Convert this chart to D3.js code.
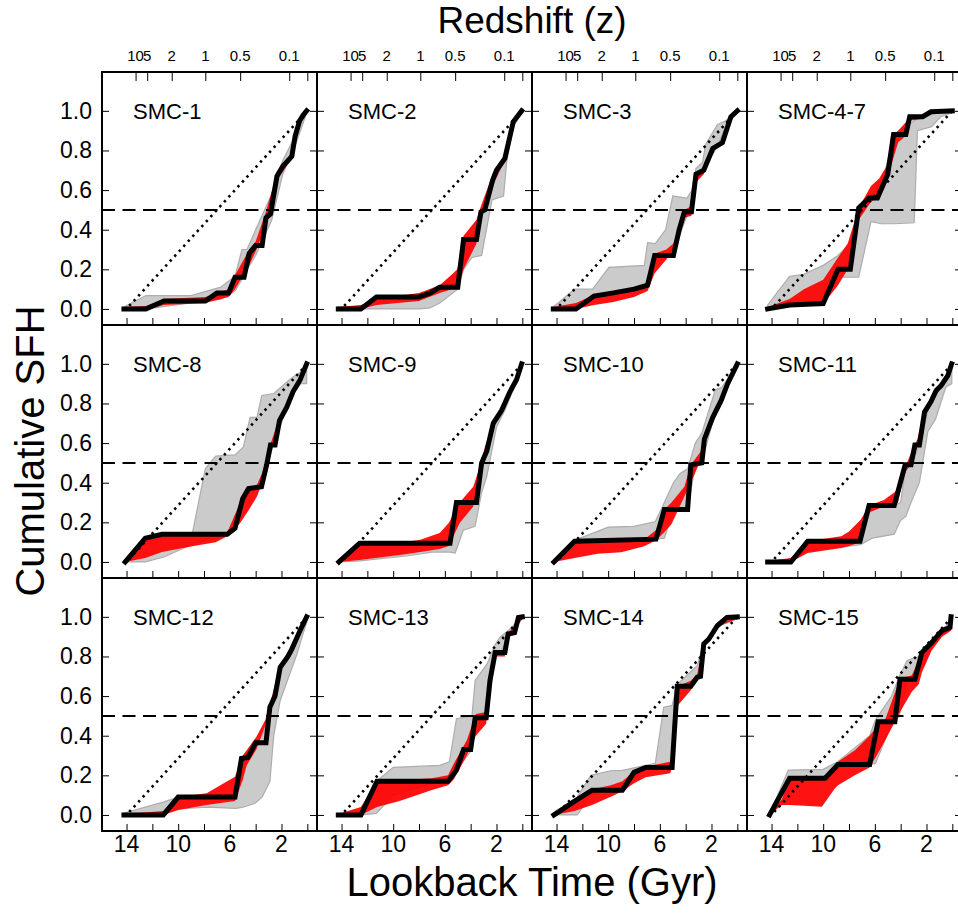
<!DOCTYPE html>
<html>
<head>
<meta charset="utf-8">
<script src="https://cdn.jsdelivr.net/npm/d3@7"></script>
<style>
  body { margin: 0; background: #fff; }
  svg { display: block; font-family: "Liberation Sans", Arial, Helvetica, sans-serif; }
</style>
</head>
<body>
<div id="chart"></div>
<script>
const names = ["SMC-1", "SMC-2", "SMC-3", "SMC-4-7", "SMC-8", "SMC-9", "SMC-10", "SMC-11", "SMC-12", "SMC-13", "SMC-14", "SMC-15"]

const yTicks = [0, 0.2, 0.4, 0.6, 0.8, 1.0]
const timeTicks = [14, 12, 10, 8, 6, 4, 2, 0]
const timeLabels = [14, 10, 6, 2]
const zTimes = [13.3, 12.4, 10.5, 7.9, 5.2, 1.4, 0]
const zLabels = ["10", "5", "2", "1", "0.5", "0.1", ""]

// best fit cumulative SFH: [lookback Gyr, fraction]
const bestFit = [
  [[14.2,0],[12.5,0],[11.1,0.04],[7.9,0.04],[7.0,0.08],[6.1,0.08],[5.6,0.16],[4.9,0.16],[4.5,0.28],[4.0,0.32],[3.5,0.32],[3.2,0.46],[2.85,0.48],[2.35,0.67],[1.9,0.72],[1.2,0.77],[0.95,0.87],[0.6,0.95],[0.3,0.98],[0.05,1.0]],
  [[14.25,0],[12.5,0],[11.3,0.06],[8.05,0.06],[7.15,0.08],[6.4,0.11],[5.0,0.11],[4.55,0.35],[3.55,0.35],[3.2,0.49],[2.9,0.5],[2.3,0.65],[2.0,0.7],[1.35,0.76],[0.7,0.945],[0.05,1.0]],
  [[14.25,0],[12.5,0],[11.1,0.065],[9.7,0.08],[8.0,0.1],[6.95,0.12],[6.4,0.27],[4.95,0.27],[4.5,0.4],[4.1,0.49],[3.55,0.49],[3.2,0.68],[2.6,0.7],[1.9,0.81],[1.15,0.84],[0.5,0.97],[0.0,1.0]],
  [[14.3,0],[12.6,0.02],[10.0,0.027],[8.85,0.2],[7.9,0.2],[7.25,0.51],[6.45,0.56],[5.8,0.56],[5.0,0.68],[4.55,0.88],[3.6,0.88],[3.3,0.97],[2.3,0.97],[1.65,0.995],[0.0,1.0]],
  [[14.1,0],[12.55,0.12],[11.25,0.14],[6.2,0.14],[5.6,0.17],[5.0,0.32],[4.55,0.37],[3.55,0.38],[3.15,0.49],[2.85,0.59],[2.5,0.59],[2.15,0.715],[1.6,0.78],[1.1,0.86],[0.55,0.92],[0.05,1.0]],
  [[14.2,0],[12.6,0.095],[5.6,0.095],[5.1,0.3],[3.55,0.3],[3.15,0.5],[2.75,0.56],[2.25,0.7],[1.6,0.765],[0.95,0.86],[0.45,0.92],[0.05,1.0]],
  [[14.2,0],[12.6,0.105],[6.3,0.115],[5.65,0.265],[3.85,0.265],[3.6,0.49],[2.75,0.5],[2.55,0.62],[1.9,0.73],[1.25,0.815],[0.75,0.9],[0.0,1.0]],
  [[14.3,0],[12.5,0],[11.2,0.105],[7.15,0.105],[6.45,0.285],[4.5,0.285],[3.65,0.49],[3.2,0.49],[2.9,0.59],[2.55,0.59],[2.15,0.757],[1.65,0.81],[1.25,0.866],[0.87,0.89],[0.35,0.94],[0.05,1.0]],
  [[14.2,0],[11.15,0],[10.0,0.09],[5.6,0.09],[5.1,0.285],[4.6,0.29],[4.0,0.365],[3.2,0.365],[2.9,0.544],[2.5,0.6],[2.1,0.745],[1.5,0.8],[1.2,0.837],[0.8,0.896],[0.45,0.946],[0.05,1.0]],
  [[14.25,0],[12.5,0],[11.25,0.17],[5.75,0.17],[5.1,0.226],[4.55,0.33],[4.0,0.33],[3.65,0.49],[2.8,0.49],[2.5,0.68],[2.1,0.82],[1.35,0.82],[1.1,0.913],[0.6,0.92],[0.3,0.997],[0.0,1.0]],
  [[14.2,0],[12.65,0.067],[11.25,0.125],[8.9,0.125],[8.0,0.215],[7.1,0.24],[5.05,0.24],[4.65,0.65],[3.6,0.65],[3.1,0.695],[2.85,0.7],[2.6,0.863],[2.2,0.888],[1.55,0.955],[0.8,0.997],[0.0,1.0]],
  [[14.15,0],[12.6,0.185],[9.85,0.185],[8.85,0.255],[6.4,0.255],[5.75,0.47],[4.45,0.47],[4.05,0.685],[2.9,0.685],[2.35,0.82],[1.6,0.87],[0.8,0.93],[0.18,0.946],[0.1,1.0]]
]

// random uncertainty envelope: [lookback Gyr, low, high]
const randErr = [
  [[14.2,0,0.01],[12.5,-0.005,0.015],[11.1,0.02,0.05],[7.9,0.03,0.06],[6.1,0.06,0.1],[5.6,0.1,0.17],[4.5,0.22,0.3],[4.0,0.29,0.34],[3.2,0.42,0.49],[2.35,0.65,0.69],[1.2,0.76,0.79],[0.6,0.94,0.96],[0.05,0.99,1.0]],
  [[14.25,0,0.01],[12.5,0,0.02],[11.3,0.02,0.05],[8.0,0.04,0.08],[6.4,0.08,0.12],[5.0,0.11,0.2],[4.55,0.2,0.37],[3.55,0.33,0.45],[3.2,0.45,0.52],[2.3,0.62,0.68],[1.35,0.75,0.77],[0.7,0.93,0.95],[0.05,0.99,1.0]],
  [[14.25,0,0.01],[12.5,0,0.03],[11.1,0.02,0.07],[9.6,0.035,0.085],[8.0,0.06,0.1],[6.95,0.09,0.13],[6.4,0.18,0.28],[5.5,0.25,0.3],[4.95,0.3,0.33],[4.5,0.37,0.41],[4.1,0.46,0.5],[3.55,0.47,0.52],[3.2,0.64,0.69],[2.6,0.68,0.71],[1.9,0.8,0.82],[1.15,0.83,0.85],[0.5,0.96,0.97],[0.0,0.99,1.0]],
  [[14.3,0,0.01],[12.6,0.015,0.05],[11.5,0.02,0.1],[10.0,0.025,0.148],[8.85,0.12,0.26],[8.1,0.2,0.33],[7.25,0.45,0.51],[6.3,0.54,0.62],[5.65,0.57,0.66],[5.0,0.67,0.73],[4.75,0.72,0.87],[4.2,0.84,0.9],[3.5,0.88,0.95],[3.3,0.95,0.97],[2.3,0.96,0.98],[1.6,0.99,1.0],[0.0,0.99,1.0]],
  [[14.1,0,0.005],[12.55,0.02,0.12],[11.25,0.05,0.14],[8.8,0.08,0.145],[7.1,0.1,0.145],[6.2,0.13,0.15],[5.2,0.196,0.3],[4.56,0.26,0.37],[3.9,0.33,0.39],[3.14,0.46,0.5],[2.83,0.57,0.6],[2.15,0.7,0.73],[1.6,0.76,0.79],[0.05,0.99,1.0]],
  [[14.2,0,0.005],[12.6,0.01,0.095],[9.2,0.037,0.1],[7.9,0.05,0.112],[6.4,0.065,0.146],[5.7,0.08,0.196],[4.85,0.196,0.3],[3.8,0.28,0.38],[3.15,0.44,0.51],[2.9,0.54,0.58],[2.24,0.69,0.71],[1.6,0.75,0.78],[0.95,0.85,0.87],[0.05,0.99,1.0]],
  [[14.2,0,0.005],[12.6,0.02,0.105],[10.8,0.042,0.11],[9.0,0.049,0.112],[7.2,0.079,0.115],[6.3,0.11,0.16],[5.65,0.15,0.265],[5.1,0.19,0.3],[4.1,0.33,0.38],[3.6,0.4,0.49],[2.8,0.52,0.56],[2.55,0.6,0.64],[1.9,0.72,0.74],[1.25,0.8,0.83],[0.75,0.89,0.91],[0.0,0.99,1.0]],
  [[14.3,0,0.005],[12.5,0,0.02],[11.2,0.045,0.105],[8.6,0.07,0.13],[8.0,0.08,0.154],[7.1,0.1,0.213],[6.45,0.25,0.285],[5.3,0.28,0.313],[4.5,0.285,0.35],[4.2,0.3,0.363],[3.7,0.45,0.47],[3.2,0.49,0.55],[2.7,0.58,0.62],[2.15,0.74,0.77],[1.6,0.8,0.82],[0.9,0.88,0.9],[0.04,0.99,1.0]],
  [[14.2,0,0.005],[11.15,0,0.02],[10.0,0.025,0.09],[7.8,0.05,0.109],[5.6,0.07,0.193],[5.0,0.176,0.3],[4.7,0.25,0.327],[3.95,0.33,0.394],[3.25,0.45,0.48],[2.9,0.52,0.56],[2.1,0.73,0.76],[1.2,0.83,0.85],[0.05,0.99,1.0]],
  [[14.25,0,0.005],[12.5,0,0.04],[11.25,0.04,0.17],[9.5,0.07,0.175],[7.0,0.126,0.185],[5.75,0.15,0.2],[5.3,0.18,0.26],[4.3,0.3,0.377],[3.6,0.4,0.51],[2.8,0.46,0.52],[2.5,0.65,0.69],[2.1,0.8,0.83],[1.35,0.8,0.83],[1.1,0.9,0.92],[0.0,0.99,1.0]],
  [[14.2,0,0.005],[12.6,0.02,0.07],[11.25,0.05,0.13],[9.8,0.092,0.15],[8.9,0.12,0.17],[8.0,0.16,0.22],[7.1,0.19,0.245],[5.2,0.21,0.268],[5.05,0.24,0.3],[4.65,0.55,0.65],[3.6,0.63,0.678],[3.1,0.69,0.712],[2.6,0.85,0.87],[1.55,0.95,0.96],[0.0,0.99,1.0]],
  [[14.15,0,0.005],[13.2,0.05,0.08],[12.6,0.05,0.185],[10.1,0.042,0.19],[9.1,0.134,0.24],[8.85,0.15,0.268],[7.55,0.2,0.327],[6.4,0.24,0.4],[5.85,0.3,0.444],[5.2,0.377,0.48],[4.05,0.52,0.69],[3.15,0.62,0.704],[2.6,0.66,0.78],[2.35,0.72,0.82],[1.6,0.83,0.88],[0.8,0.9,0.93],[0.1,0.93,0.97]]
]

// systematic uncertainty envelope: [lookback Gyr, low, high]
const sysErr = [
  [[14.2,0,0.01],[12.5,0,0.067],[9.0,0.03,0.067],[6.7,0.05,0.11],[5.6,0.09,0.165],[5.06,0.15,0.3],[4.67,0.2,0.3],[4.0,0.27,0.4],[2.75,0.45,0.58],[1.9,0.68,0.75],[0.8,0.85,0.89],[0.05,0.99,1.0]],
  [[14.25,0,0.01],[12.5,0,0.01],[11.3,0,0.06],[8.0,0,0.06],[7.15,0.005,0.075],[6.4,0.03,0.1],[5.0,0.1,0.2],[4.55,0.2,0.33],[3.9,0.26,0.36],[3.15,0.27,0.49],[2.35,0.55,0.66],[1.45,0.57,0.75],[1.2,0.75,0.8],[0.7,0.92,0.95],[0.05,0.99,1.0]],
  [[14.25,0,0.01],[12.6,0,0.1],[11.2,0.065,0.1],[9.95,0.075,0.21],[7.2,0.11,0.22],[6.95,0.12,0.335],[6.35,0.27,0.33],[5.55,0.27,0.4],[5.0,0.28,0.57],[3.9,0.47,0.56],[3.5,0.49,0.6],[3.2,0.68,0.71],[2.7,0.69,0.74],[2.45,0.72,0.83],[1.55,0.82,0.93],[0.9,0.92,0.95],[0.0,0.99,1.0]],
  [[14.3,0,0.02],[12.6,0.02,0.165],[11.5,0.03,0.175],[10.0,0.04,0.22],[8.85,0.16,0.27],[7.9,0.16,0.33],[7.25,0.16,0.5],[6.3,0.44,0.58],[5.5,0.43,0.62],[4.5,0.43,0.88],[2.95,0.435,0.95],[2.7,0.9,0.96],[1.6,0.92,0.98],[0.9,0.97,1.0],[0.0,0.99,1.0]],
  [[14.1,0,0.005],[12.55,0,0.11],[11.1,0.025,0.14],[8.9,0.09,0.146],[7.9,0.11,0.47],[7.1,0.12,0.534],[5.6,0.17,0.54],[4.95,0.32,0.58],[4.43,0.37,0.73],[3.9,0.38,0.73],[3.53,0.38,0.84],[2.6,0.6,0.85],[1.2,0.84,0.93],[0.5,0.9,0.96],[0.05,0.9,0.98]],
  [[14.2,0,0.005],[12.6,0.005,0.09],[9.0,0.03,0.095],[7.0,0.05,0.095],[5.6,0.05,0.095],[5.2,0.045,0.2],[4.57,0.16,0.3],[3.66,0.18,0.3],[3.15,0.35,0.5],[2.76,0.43,0.56],[2.0,0.68,0.72],[1.33,0.77,0.8],[0.5,0.9,0.93],[0.05,0.99,1.0]],
  [[14.2,0,0.005],[12.6,0.1,0.11],[10.0,0.105,0.176],[8.0,0.11,0.18],[6.35,0.115,0.204],[5.65,0.12,0.3],[4.95,0.26,0.4],[4.43,0.265,0.447],[3.85,0.265,0.47],[3.25,0.49,0.6],[2.75,0.5,0.65],[1.7,0.76,0.87],[1.2,0.82,0.88],[0.0,0.99,1.0]],
  [[14.3,0,0.005],[12.5,0,0.01],[11.2,0.06,0.1],[8.6,0.075,0.105],[7.1,0.087,0.105],[6.2,0.12,0.285],[4.5,0.14,0.285],[4.0,0.21,0.3],[3.6,0.23,0.49],[3.2,0.3,0.49],[2.55,0.4,0.59],[1.9,0.657,0.76],[1.3,0.72,0.86],[0.5,0.883,0.93],[0.04,0.9,1.0]],
  [[14.2,0,0.01],[11.3,0,0.062],[10.0,0.03,0.09],[7.8,0.04,0.09],[5.5,0.033,0.1],[4.9,0.04,0.29],[4.05,0.059,0.36],[3.5,0.09,0.4],[2.9,0.168,0.5],[2.6,0.4,0.6],[2.1,0.578,0.75],[0.8,0.812,0.9],[0.3,0.92,0.96],[0.05,0.97,1.0]],
  [[14.25,0,0.005],[12.5,0,0.01],[11.3,0.008,0.17],[10.0,0.1,0.24],[6.4,0.17,0.25],[5.65,0.17,0.268],[5.1,0.226,0.486],[3.9,0.33,0.5],[3.65,0.49,0.68],[2.75,0.5,0.76],[2.1,0.8,0.86],[1.7,0.82,0.9],[1.1,0.9,0.93],[0.0,0.99,1.0]],
  [[14.2,0,0.005],[12.4,0,0.09],[11.35,0.1,0.2],[9.8,0.125,0.223],[8.9,0.125,0.225],[7.1,0.238,0.25],[6.35,0.24,0.26],[5.7,0.24,0.544],[5.05,0.24,0.553],[4.65,0.64,0.66],[3.1,0.69,0.754],[2.6,0.85,0.87],[1.55,0.95,0.96],[0.0,0.99,1.0]],
  [[14.15,0,0.005],[12.7,0.17,0.226],[10.0,0.18,0.23],[8.85,0.25,0.27],[6.4,0.255,0.4],[5.95,0.26,0.48],[4.7,0.46,0.6],[4.1,0.5,0.7],[3.5,0.68,0.78],[2.6,0.72,0.8],[1.6,0.85,0.88],[0.8,0.91,0.94],[0.1,0.94,0.97]]
]

// constant SFH reference line
const constSFH = [[14, 0], [0, 1]]

function drawChart() {
  const width = 958
  const height = 919
  const colX = [102, 317, 532, 747]
  const rowY = [72, 325, 578]
  const pw = 215
  const ph = 253

  const x = d3.scaleLinear().domain([15.9, -0.75]).range([0, pw])
  const y = d3.scaleLinear().domain([-0.081, 1.196]).range([ph, 0])

  const svg = d3.select("#chart")
    .append("svg")
    .attr("width", width)
    .attr("height", height)

  svg.append("defs").append("clipPath")
    .attr("id", "panel-clip")
    .append("rect")
    .attr("width", pw)
    .attr("height", ph)

  const area = d3.area()
    .x(d => x(d[0]))
    .y0(d => y(d[1]))
    .y1(d => y(d[2]))

  const line = d3.line()
    .x(d => x(d[0]))
    .y(d => y(d[1]))

  names.forEach((name, i) => {
    const col = i % 4
    const row = Math.floor(i / 4)

    const g = svg.append("g")
      .attr("transform", `translate(${colX[col]},${rowY[row]})`)

    const inner = g.append("g").attr("clip-path", "url(#panel-clip)")

    inner.append("path")
      .datum(sysErr[i])
      .attr("d", area)
      .attr("fill", "#cbcbcb")
      .attr("stroke", "#adadad")
      .attr("stroke-width", 1.2)

    inner.append("path")
      .datum(randErr[i])
      .attr("d", area)
      .attr("fill", "#ff0000")
      .attr("fill-opacity", 0.93)

    inner.append("path")
      .datum(constSFH)
      .attr("d", line)
      .attr("fill", "none")
      .attr("stroke", "#000")
      .attr("stroke-width", 2.6)
      .attr("stroke-dasharray", "2.4,4.3")
      .attr("stroke-dashoffset", -4)

    inner.append("line")
      .attr("x1", 0)
      .attr("x2", pw)
      .attr("y1", y(0.5))
      .attr("y2", y(0.5))
      .attr("stroke", "#000")
      .attr("stroke-width", 2)
      .attr("stroke-dasharray", "13,7.5")

    inner.append("path")
      .datum(bestFit[i])
      .attr("d", line)
      .attr("fill", "none")
      .attr("stroke", "#000")
      .attr("stroke-width", 5)
      .attr("stroke-linejoin", "miter")
      .attr("stroke-linecap", "square")

    g.append("text")
      .attr("x", 31)
      .attr("y", 47)
      .attr("font-size", 22)
      .text(name)

    // inward ticks on left and right
    g.append("g")
      .call(d3.axisRight(y).tickValues(yTicks).tickSize(7).tickFormat(""))
      .call(a => a.select(".domain").remove())
    g.append("g")
      .attr("transform", `translate(${pw},0)`)
      .call(d3.axisLeft(y).tickValues(yTicks).tickSize(7).tickFormat(""))
      .call(a => a.select(".domain").remove())

    // inward ticks on bottom
    g.append("g")
      .attr("transform", `translate(0,${ph})`)
      .call(d3.axisTop(x).tickValues(timeTicks).tickSize(7).tickFormat(""))
      .call(a => a.select(".domain").remove())

    if (row == 0) {
      const top = g.append("g")
        .call(d3.axisBottom(x).tickValues(zTimes).tickSize(9).tickFormat(""))
        .call(a => a.select(".domain").remove())
      top.selectAll(".zlab")
        .data(zTimes)
        .join("text")
        .attr("class", "zlab")
        .attr("x", d => x(d))
        .attr("y", -11)
        .attr("text-anchor", "middle")
        .attr("font-size", 15)
        .attr("fill", "#000")
        .text((d, k) => zLabels[k])
    }

    if (col == 0) {
      g.selectAll(".ylab")
        .data(yTicks)
        .join("text")
        .attr("class", "ylab")
        .attr("x", -10)
        .attr("y", d => y(d) + 8)
        .attr("text-anchor", "end")
        .attr("font-size", 23)
        .text(d => d3.format(".1f")(d))
    }

    if (row == 2) {
      g.selectAll(".xlab")
        .data(timeLabels)
        .join("text")
        .attr("class", "xlab")
        .attr("x", d => x(d))
        .attr("y", ph + 21)
        .attr("text-anchor", "middle")
        .attr("font-size", 23)
        .text(d => d)
    }

    g.append("rect")
      .attr("width", pw)
      .attr("height", ph)
      .attr("fill", "none")
      .attr("stroke", "#000")
      .attr("stroke-width", 2)
  })

  svg.append("text")
    .attr("x", 532)
    .attr("y", 33)
    .attr("text-anchor", "middle")
    .attr("font-size", 37)
    .text("Redshift (z)")

  svg.append("text")
    .attr("x", 532)
    .attr("y", 896)
    .attr("text-anchor", "middle")
    .attr("font-size", 40)
    .text("Lookback Time (Gyr)")

  svg.append("text")
    .attr("transform", "translate(44,451) rotate(-90)")
    .attr("text-anchor", "middle")
    .attr("font-size", 40)
    .text("Cumulative SFH")
}

drawChart()
</script>
</body>
</html>
